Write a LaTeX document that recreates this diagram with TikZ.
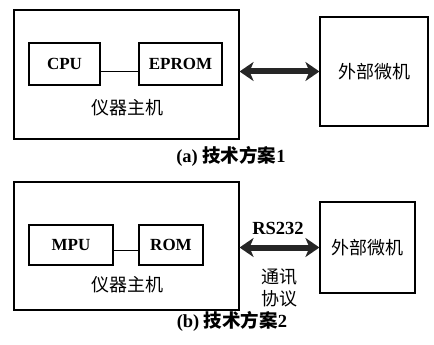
\documentclass[tikz,border=0pt]{standalone}
\usepackage{fontspec}
\setmainfont{Liberation Serif}
\newfontfamily\cjk{Noto Sans CJK SC}
\usetikzlibrary{arrows.meta,positioning}

\begin{document}
\begin{tikzpicture}[x=1pt,y=-1pt,
   box/.style={draw,line width=1.1pt,inner sep=0pt},
   chip/.style={box,font=\fontsize{17}{17}\selectfont\bfseries},
   zh/.style={font=\fontsize{18}{22}\selectfont\cjk},
   captxt/.style={font=\fontsize{18.5}{20}\selectfont\bfseries},
   link/.style={line width=6pt,black!85,
     {Stealth[length=14pt,width=19pt,inset=4pt]}-{Stealth[length=14pt,width=19pt,inset=4pt]}}]
  \useasboundingbox (0,0) rectangle (434,345);
  % (a) scheme 1
  \node[box,minimum width=225pt,minimum height=129pt] (host1) at (126.5,74.5) {};
  \node[chip,minimum width=71pt,minimum height=42pt] (cpu) at (64.5,64) {CPU};
  \node[chip,minimum width=83pt,minimum height=42pt] (eprom) at (180.5,64) {EPROM};
  \node[zh] (hostlbl1) at (127,108) {仪器主机};
  \node[box,minimum width=108pt,minimum height=109pt] (pc1) at (374,71.5) {};
  \node[zh] at (pc1) {外部微机};
  \draw[line width=1pt] ([yshift=-8pt]cpu.east) -- ([yshift=-8pt]eprom.west);
  \draw[link] (pc1.west -| host1.east) -- (pc1.west);
  \node[captxt] (capa) at (231,156) {(a) {\cjk 技术方案}1};
  % (b) scheme 2
  \node[box,minimum width=225pt,minimum height=128pt] (host2) at (126.5,246) {};
  \node[chip,minimum width=84pt,minimum height=40pt] (mpu) at (71,245) {MPU};
  \node[chip,minimum width=64pt,minimum height=40pt] (rom) at (171,245) {ROM};
  \node[zh] (hostlbl2) at (127,285) {仪器主机};
  \node[box,minimum width=95pt,minimum height=91pt] (pc2) at (367.5,247.5) {};
  \node[zh] at (pc2) {外部微机};
  \draw[line width=1pt] ([yshift=-5pt]mpu.east) -- ([yshift=-5pt]rom.west);
  \draw[link] (pc2.west -| host2.east) -- (pc2.west);
  \node[captxt] (rs) at (278,228) {RS232};
  \node[zh,align=center] (proto) at (279,288) {通讯\\协议};
  \node[captxt] (capb) at (232,321) {(b) {\cjk 技术方案}2};
\end{tikzpicture}
\end{document}
